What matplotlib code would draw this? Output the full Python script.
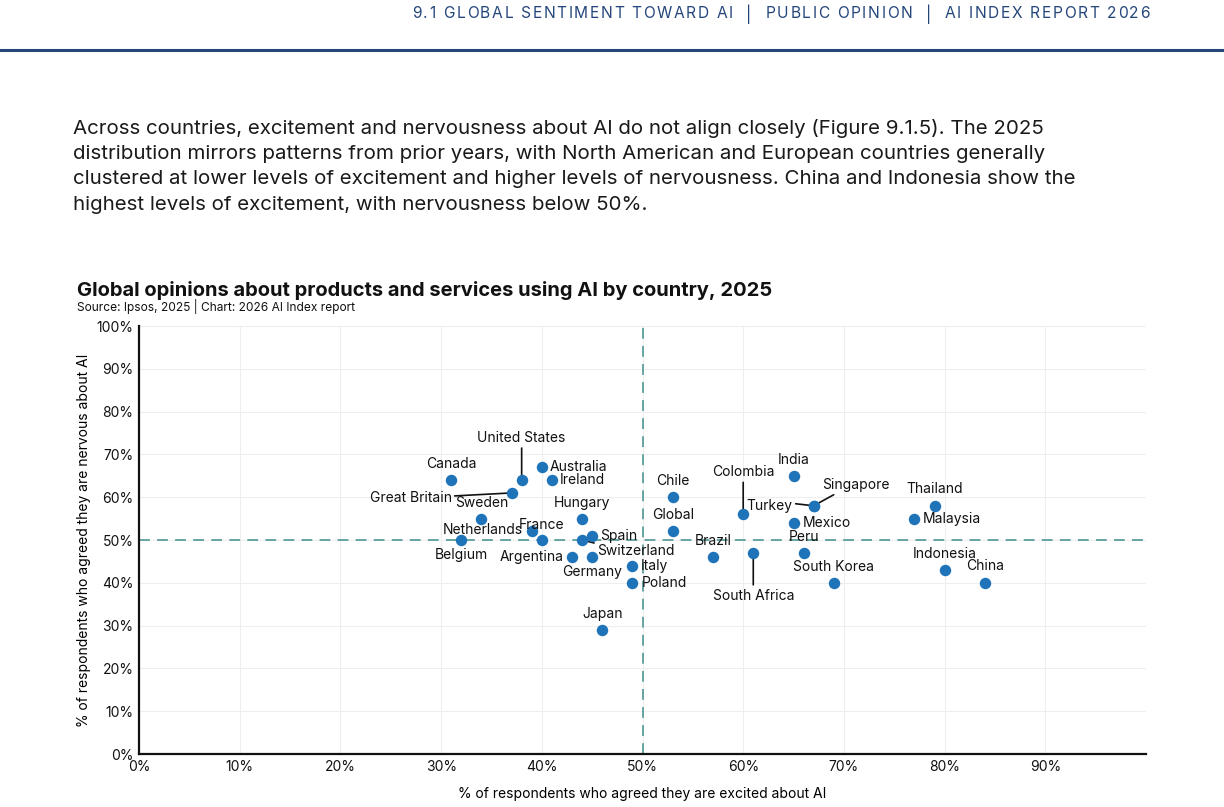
import matplotlib
matplotlib.use("Agg")
import matplotlib.pyplot as plt
from matplotlib.ticker import MultipleLocator

# data (% excited, % nervous)
countries = ["Canada", "United States", "Australia", "Ireland", "Great Britain", "Sweden",
             "Netherlands", "Belgium", "France", "Hungary", "Spain", "Switzerland",
             "Argentina", "Germany", "Italy", "Poland", "Japan", "Chile", "Global",
             "Colombia", "India", "Turkey", "Singapore", "Mexico", "Peru", "South Africa",
             "Brazil", "South Korea", "Thailand", "Malaysia", "Indonesia", "China"]
excited = [31, 38, 40, 41, 37, 34, 39, 32, 40, 44, 45, 44, 43, 45, 49, 49, 46, 53, 53,
           60, 65, 67, 67, 65, 66, 61, 57, 69, 79, 77, 80, 84]
nervous = [64, 64, 67, 64, 61, 55, 52, 50, 50, 55, 51, 50, 46, 46, 44, 40, 29, 60, 52,
           56, 65, 58, 58, 54, 47, 47, 46, 40, 58, 55, 43, 40]
tick_values = list(range(0, 100, 10))

W, H = 1224, 807
DOT = "#1f74b9"
TEAL = "#5b9e9b"
NAVY = "#24467a"

# label placement in pixels: (dx, dy, ha, leader)
LABEL_POS = {
    "Canada": (0, 16, "center", False),
    "United States": (0, 42, "center", True),
    "Australia": (8, 0, "left", False),
    "Ireland": (8, 0, "left", False),
    "Great Britain": (-60, -5, "right", True),
    "Sweden": (0, 16, "center", False),
    "Netherlands": (-9, 1, "right", False),
    "Belgium": (0, -15, "center", False),
    "France": (0, 15, "center", False),
    "Hungary": (0, 16, "center", False),
    "Spain": (8, 0, "left", False),
    "Switzerland": (15, -11, "left", True),
    "Argentina": (-8, 0, "right", False),
    "Germany": (0, -15, "center", False),
    "Italy": (8, 0, "left", False),
    "Poland": (9, 0, "left", False),
    "Japan": (0, 16, "center", False),
    "Chile": (0, 16, "center", False),
    "Global": (0, 16, "center", False),
    "Colombia": (0, 42, "center", True),
    "India": (0, 16, "center", False),
    "Turkey": (-21, 0, "right", True),
    "Singapore": (42, 21, "center", True),
    "Mexico": (9, 0, "left", False),
    "Peru": (0, 16, "center", False),
    "South Africa": (0, -43, "center", True),
    "Brazil": (0, 16, "center", False),
    "South Korea": (0, 16, "center", False),
    "Thailand": (0, 17, "center", False),
    "Malaysia": (8, 0, "left", False),
    "Indonesia": (0, 16, "center", False),
    "China": (0, 17, "center", False),
}

plt.rcParams["font.family"] = ["Inter", "DejaVu Sans"]

fig = plt.figure(figsize=(W / 100, H / 100), dpi=100)
renderer = fig.canvas.get_renderer()


def fx(px):
    return px / W


def fy(py):
    return 1 - py / H


def spaced_text(x0, x1, y, s, **kw):
    # letter-spaced text: lay characters out one by one between x0 and x1 (pixels)
    widths = []
    for ch in s:
        t = fig.text(0, 0, ch if ch != " " else "a a", **kw)
        w = t.get_window_extent(renderer).width
        if ch == " ":
            t2 = fig.text(0, 0, "aa", **kw)
            w -= t2.get_window_extent(renderer).width
            t2.remove()
        widths.append(w)
        t.remove()
    gap = (x1 - x0 - sum(widths)) / (len(s) - 1)
    x = x0
    for ch, w in zip(s, widths):
        if ch != " ":
            fig.text(fx(x), fy(y), ch, ha="left", va="center", **kw)
        x += w + gap


# page header
spaced_text(412, 1150, 14, "9.1 GLOBAL SENTIMENT TOWARD AI  |  PUBLIC OPINION  |  AI INDEX REPORT 2026",
            fontsize=11.2, color=NAVY)
fig.add_artist(plt.Line2D([0, 1], [fy(50), fy(50)], color=NAVY, lw=2.2, transform=fig.transFigure))

body = ["Across countries, excitement and nervousness about AI do not align closely (Figure 9.1.5). The 2025",
        "distribution mirrors patterns from prior years, with North American and European countries generally",
        "clustered at lower levels of excitement and higher levels of nervousness. China and Indonesia show the",
        "highest levels of excitement, with nervousness below 50%."]
for i, line in enumerate(body):
    fig.text(fx(73), fy(128 + i * 25.7), line, ha="left", va="center", fontsize=14.75, color="#1a1a1a")

fig.text(fx(77), fy(290), "Global opinions about products and services using AI by country, 2025",
         ha="left", va="center", fontsize=14.5, fontweight="bold", color="#111111")
fig.text(fx(77), fy(307), "Source: Ipsos, 2025 | Chart: 2026 AI Index report",
         ha="left", va="center", fontsize=8.6, color="#111111")

ax = fig.add_axes([fx(139), fy(754), fx(1146) - fx(139), fy(326) - fy(754)])
ax.set_xlim(0, 100)
ax.set_ylim(0, 100)
ax.yaxis.set_major_locator(MultipleLocator(10))
ax.yaxis.set_major_formatter(lambda v, p: f"{v:.0f}%")
ax.set_xticks(tick_values)
ax.set_xticklabels([f"{v}%" for v in tick_values])
ax.tick_params(length=0, labelsize=10, colors="#111111", pad=4)
ax.grid(True, color="#eeeeee", lw=0.8)
ax.set_axisbelow(True)
for side in ["top", "right"]:
    ax.spines[side].set_visible(False)
for side in ["left", "bottom"]:
    ax.spines[side].set_linewidth(1.6)
    ax.spines[side].set_color("#111111")

ax.axvline(50, color=TEAL, lw=1.3, ls=(0, (6, 4)), zorder=1)
ax.axhline(50, color=TEAL, lw=1.3, ls=(0, (6, 4)), zorder=1)

ax.scatter(excited, nervous, s=68, color=DOT, zorder=3, linewidths=0)

for name, x, y in zip(countries, excited, nervous):
    dx, dy, ha, leader = LABEL_POS[name]
    ax.annotate(name, (x, y), xytext=(dx, dy), textcoords="offset pixels",
                ha=ha, va="center", fontsize=10, color="#111111", zorder=4)
    if leader:
        # short black leader line from the dot toward the label
        if ha == "center" and dx == 0:
            end = (0, dy - 10 if dy > 0 else dy + 11)
        elif ha == "right":
            end = (dx + 3, dy + 2)
        elif ha == "left":
            end = (dx - 3, dy + 8)
        else:
            end = (dx - 22, dy - 10)
        ax.annotate("", (x, y), xytext=end, textcoords="offset pixels",
                    arrowprops=dict(arrowstyle="-", color="#111111", lw=1.2,
                                    shrinkA=0, shrinkB=0), zorder=2)

ax.set_xlabel("% of respondents who agreed they are excited about AI", fontsize=10, labelpad=10)
ax.set_ylabel("% of respondents who agreed they are nervous about AI", fontsize=10, labelpad=4)

fig.savefig("out.png", dpi=100, facecolor="white")
